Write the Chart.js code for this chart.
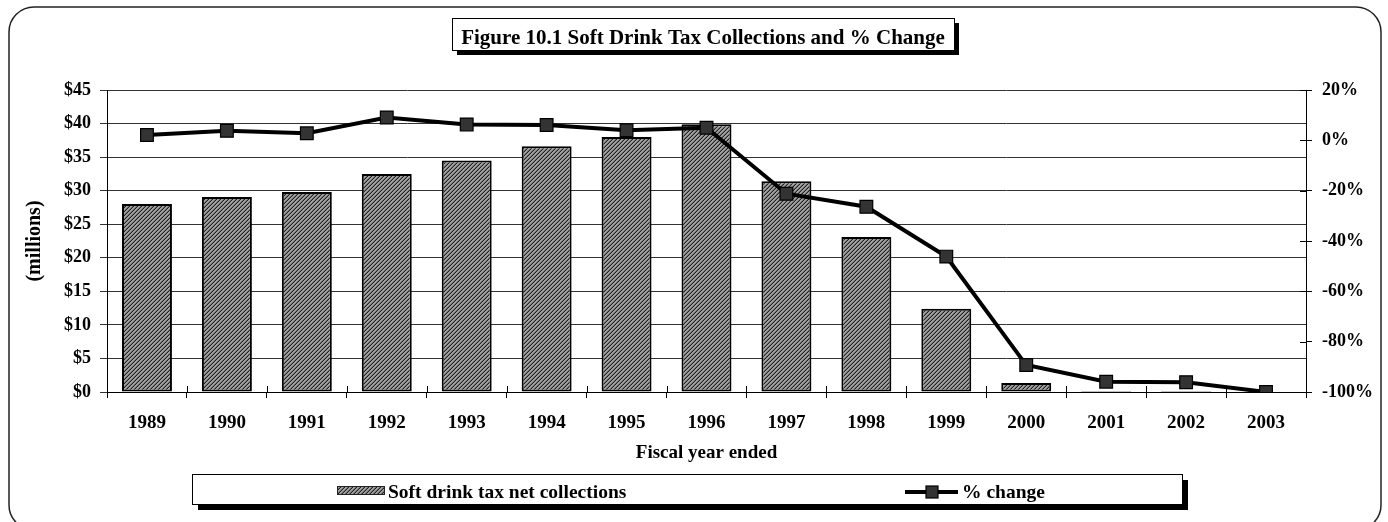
<!DOCTYPE html>
<html>
<head>
<meta charset="utf-8">
<style>
  html, body { margin: 0; padding: 0; background: #fff; }
  #wrap { width: 1388px; height: 522px; position: relative; }
</style>
<script src="https://cdn.jsdelivr.net/npm/chart.js@4.4.1/dist/chart.umd.min.js"></script>
</head>
<body>
<div id="wrap"><canvas id="c" width="1388" height="522"></canvas></div>
<script>
// ---- data ----
const categories = ['1989','1990','1991','1992','1993','1994','1995','1996','1997','1998','1999','2000','2001','2002','2003'];
const collections = [28.0, 29.05, 29.8, 32.5, 34.5, 36.6, 38.0, 39.9, 31.4, 23.1, 12.4, 1.35, 0.15, 0.01, 0];
const pctChange = [2.1, 3.8, 2.8, 9.1, 6.3, 6.1, 4.0, 5.0, -21.2, -26.4, -46.2, -89.3, -95.9, -96.1, -100];
const seriesLabels = ['Soft drink tax net collections', '% change'];
const chartTitle = 'Figure 10.1 Soft Drink Tax Collections and % Change';
const xTitle = 'Fiscal year ended';
const yTitle = '(millions)';

const SERIF = '"Liberation Serif", "Times New Roman", serif';

// hatch pattern
function makePattern() {
  const pc = document.createElement('canvas');
  pc.width = 4; pc.height = 4;
  const p = pc.getContext('2d');
  for (let x = 0; x < 4; x++) {
    for (let y = 0; y < 4; y++) {
      const k = (x + y) % 4;
      p.fillStyle = k === 3 ? '#222' : (k === 2 ? '#6e6e6e' : '#a0a0a0');
      p.fillRect(x, y, 1, 1);
    }
  }
  return p.createPattern(pc, 'repeat');
}
const hatch = makePattern();

const decoPlugin = {
  id: 'deco',
  beforeDraw(chart) {
    const ctx = chart.ctx;
    ctx.save();
    ctx.fillStyle = '#fff';
    ctx.fillRect(0, 0, chart.width, chart.height);
    // outer rounded border
    ctx.strokeStyle = '#222';
    ctx.lineWidth = 1.5;
    ctx.beginPath();
    ctx.roundRect(9, 7, 1372, 523, 25);
    ctx.stroke();
    ctx.restore();
  },
  afterDraw(chart) {
    const ctx = chart.ctx;
    const x = chart.scales.x, y1 = chart.scales.y1, y = chart.scales.y;
    ctx.save();
    // inward tick marks on x axis and right axis
    ctx.strokeStyle = '#000';
    ctx.lineWidth = 1;
    ctx.beginPath();
    for (let i = 0; i <= categories.length; i++) {
      const px = Math.round(x.getPixelForValue(i - 0.5)) + 0.5;
      ctx.moveTo(px, y.bottom - 6);
      ctx.lineTo(px, y.bottom);
    }
    y1.ticks.forEach(t => {
      const py = Math.round(y1.getPixelForValue(t.value)) + 0.5;
      ctx.moveTo(y1.left - 6, py);
      ctx.lineTo(y1.left, py);
    });
    ctx.stroke();

    // title box
    const bx = 452, by = 18, bw = 502, bh = 32;
    ctx.fillStyle = '#000';
    ctx.fillRect(bx + 5, by + 5, bw, bh);
    ctx.fillStyle = '#fff';
    ctx.fillRect(bx, by, bw, bh);
    ctx.strokeStyle = '#000';
    ctx.lineWidth = 1;
    ctx.strokeRect(bx + 0.5, by + 0.5, bw, bh);
    ctx.fillStyle = '#000';
    ctx.font = 'bold 21px ' + SERIF;
    ctx.textAlign = 'center';
    ctx.textBaseline = 'alphabetic';
    ctx.fillText(chartTitle, bx + bw / 2, 44);

    // legend box
    const lx = 192, ly = 474, lw = 990, lh = 30;
    ctx.fillStyle = '#000';
    ctx.fillRect(lx + 6, ly + 6, lw, lh);
    ctx.fillStyle = '#fff';
    ctx.fillRect(lx, ly, lw, lh);
    ctx.strokeStyle = '#000';
    ctx.strokeRect(lx + 0.5, ly + 0.5, lw, lh);

    const barDs = chart.data.datasets.find(d => d.type === 'bar');
    const lineDs = chart.data.datasets.find(d => d.type === 'line');
    // bar swatch
    ctx.fillStyle = hatch;
    ctx.fillRect(337, 486, 48, 9);
    ctx.strokeStyle = '#222';
    ctx.lineWidth = 1;
    ctx.strokeRect(337.5, 486.5, 47, 8);
    ctx.fillStyle = '#000';
    ctx.font = 'bold 19.5px ' + SERIF;
    ctx.textAlign = 'left';
    ctx.fillText(barDs.label, 388, 498);
    // line swatch
    ctx.strokeStyle = '#000';
    ctx.lineWidth = 4;
    ctx.beginPath();
    ctx.moveTo(905, 492);
    ctx.lineTo(958, 492);
    ctx.stroke();
    ctx.fillStyle = '#333';
    ctx.fillRect(926, 486, 12, 12);
    ctx.lineWidth = 1.2;
    ctx.strokeStyle = '#000';
    ctx.strokeRect(926, 486, 12, 12);
    ctx.fillStyle = '#000';
    ctx.fillText(lineDs.label, 962, 498);
    ctx.restore();
  }
};

const tickFont = { family: SERIF, weight: 'bold', size: 18 };

new Chart(document.getElementById('c'), {
  type: 'bar',
  data: {
    labels: categories,
    datasets: [
      {
        type: 'line',
        label: seriesLabels[1],
        data: pctChange,
        yAxisID: 'y1',
        borderColor: '#000',
        borderWidth: 4,
        pointStyle: 'rect',
        pointRadius: 9,
        pointBackgroundColor: '#333',
        pointBorderColor: '#000',
        pointBorderWidth: 1.2,
        tension: 0,
        order: 0
      },
      {
        type: 'bar',
        label: seriesLabels[0],
        data: collections,
        yAxisID: 'y',
        backgroundColor: hatch,
        borderColor: '#000',
        borderWidth: 2,
        borderSkipped: false,
        barPercentage: 0.625,
        categoryPercentage: 1.0,
        order: 1
      }
    ]
  },
  options: {
    responsive: false,
    animation: false,
    layout: { padding: { top: 90, left: 0, right: 0, bottom: 0 } },
    plugins: {
      legend: { display: false },
      title: { display: false },
      tooltip: { enabled: false }
    },
    scales: {
      x: {
        type: 'category',
        offset: true,
        grid: { offset: true, drawOnChartArea: false, tickLength: 6, color: '#000', lineWidth: 1 },
        border: { display: true, color: '#000', width: 1 },
        ticks: { font: { family: SERIF, weight: 'bold', size: 19 }, color: '#000', padding: 14, maxRotation: 0, autoSkip: false },
        title: { display: true, text: xTitle, color: '#000', font: { family: SERIF, weight: 'bold', size: 19 }, padding: { top: 0, bottom: 58 } },
        afterFit: s => { s.height = 130; }
      },
      y: {
        position: 'left',
        min: 0, max: 45,
        ticks: { stepSize: 5, font: tickFont, color: '#000', padding: 9, callback: v => '$' + v },
        grid: { color: '#333', lineWidth: 1, tickLength: 7 },
        border: { display: true, color: '#000', width: 1 },
        title: { display: true, text: yTitle, color: '#000', font: { family: SERIF, weight: 'bold', size: 20 }, padding: { top: 23, bottom: 0 } },
        afterFit: s => { s.width = 107; }
      },
      y1: {
        position: 'right',
        min: -100, max: 20,
        ticks: { stepSize: 20, font: tickFont, color: '#000', padding: 10, callback: v => v + '%' },
        grid: { drawOnChartArea: false, color: '#000', tickLength: 6 },
        border: { display: true, color: '#000', width: 1 },
        afterFit: s => { s.width = 82; }
      }
    }
  },
  plugins: [decoPlugin]
});
</script>
</body>
</html>
